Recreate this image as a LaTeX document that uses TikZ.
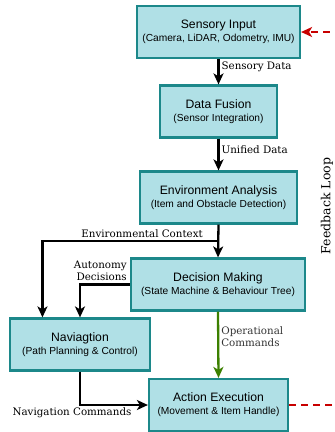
\documentclass[tikz,border=0pt]{standalone}
\usepackage{fontspec}
\setmainfont{DejaVu Serif}
\newfontfamily\boxfont{Liberation Sans}
\newcommand\subtxt{\boxfont\fontsize{10.2}{12}\selectfont}
\usepackage{tikz}
\usetikzlibrary{arrows.meta,positioning,calc}

\definecolor{boxfill}{RGB}{176,224,230}
\definecolor{boxline}{RGB}{28,136,138}
\definecolor{opgreen}{RGB}{60,128,0}
\definecolor{loopred}{RGB}{200,0,0}

\begin{document}
\begin{tikzpicture}[x=1pt, y=-1pt,
  >={Stealth[length=11pt,width=10pt,inset=3pt]},
  block/.style={draw=boxline, fill=boxfill, line width=2.2pt, minimum height=52pt,
    align=center, inner sep=2pt, font=\boxfont\fontsize{12.2}{14}\selectfont},
  flow/.style={->, line width=2.3pt},
  lbl/.style={font=\fontsize{10.3}{11.5}\selectfont, inner sep=2pt}]

\useasboundingbox (0,0) rectangle (335,432);
\clip (0,0) rectangle (335,432);

% blocks
\node[block, minimum width=163pt] (sensory) at (218.5,32)
  {Sensory Input\\[-1pt]{\subtxt (Camera, LiDAR, Odometry, IMU)}};
\node[block, minimum width=117pt] (fusion) at (218.5,111.5)
  {Data Fusion\\[-1pt]{\subtxt (Sensor Integration)}};
\node[block, minimum width=157pt] (env) at (218.5,197.5)
  {Environment Analysis\\[-1pt]{\subtxt (Item and Obstacle Detection)}};
\node[block, minimum width=174pt] (decision) at (218,284.5)
  {Decision Making\\[-1pt]{\subtxt (State Machine \& Behaviour Tree)}};
\node[block, minimum width=140pt] (nav) at (80,344.5)
  {Naviagtion\\[-1pt]{\subtxt (Path Planning \& Control)}};
\node[block, minimum width=139pt] (action) at (218.5,405)
  {Action Execution\\[-1pt]{\subtxt (Movement \& Item Handle)}};

% main chain
\draw[flow] (sensory.south) -- node[lbl, right, pos=0.3] (sdata) {Sensory Data} (fusion.north);
\draw[flow] (fusion.south) -- node[lbl, right, pos=0.35] (udata) {Unified Data} (env.north);
\draw[flow] (env.south) -- (decision.north);

% environmental context branch
\coordinate (split) at (env.south |- 0,241);
\coordinate (navin) at ($(nav.north west)!0.236!(nav.north east)$);
\draw[flow] (split) -| node[lbl, above, pos=0.217] (ctx) {Environmental Context} (navin);

% autonomy decisions
\draw[flow] (decision.west) -| (nav.north);
\node[lbl, anchor=south east, align=right] (auto) at ($(decision.west)+(-1,-2)$)
  {Autonomy\\Decisions};

% operational commands
\draw[flow, opgreen] (decision.south) -- node[lbl, right, pos=0.38, align=left, text=black!80]
  (opcmd) {Operational\\Commands} (action.north);

% navigation commands
\draw[flow] (nav.south) |- node[lbl, below, pos=0.5, xshift=-8pt] (navcmd) {Navigation Commands} (action.west);

% feedback loop
\coordinate (loopa) at (345,405);
\coordinate (loopb) at (345,32);
\draw[->, loopred, line width=2.2pt, dash pattern=on 7pt off 5pt]
  (action.east) -- (loopa) -- (loopb) -- (sensory.east);
\node[lbl, rotate=90, font=\fontsize{12.5}{14}\selectfont] (fb) at (327,206) {Feedback Loop};

\end{tikzpicture}
\end{document}
